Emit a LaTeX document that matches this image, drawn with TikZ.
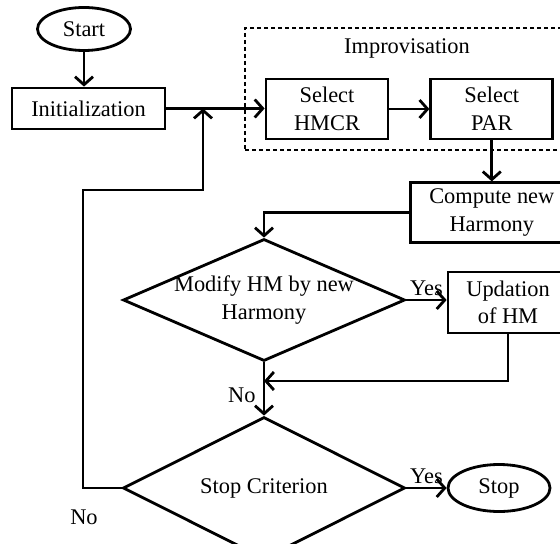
\documentclass[tikz,border=0pt]{standalone}
\usepackage{fontspec}
\setmainfont{Liberation Serif}
\usetikzlibrary{shapes.geometric, arrows.meta, positioning}

\begin{document}
\begin{tikzpicture}[
    x=0.5pt, y=-0.5pt,
    font=\fontsize{11.2}{13.8}\selectfont,
    stepbox/.style={draw, line width=1.4pt, minimum width=61pt, minimum height=30pt,
                    inner sep=2pt, align=center},
    decision/.style={diamond, draw, line width=1.4pt, inner xsep=-4pt, inner ysep=0pt,
                     align=center},
    terminal/.style={ellipse, draw, line width=1.4pt, inner sep=0pt},
    groupbox/.style={draw, line width=1.4pt, dash pattern=on 2pt off 1.5pt},
    arrow/.style={-{Straight Barb[length=4pt, width=9pt]}, line width=1.4pt},
    lbl/.style={inner sep=1.5pt},
]
    \useasboundingbox (0,0) rectangle (560,544);
    \clip (0,0) rectangle (560,544);

    % Start and initialization
    \node[terminal, minimum width=46.5pt, minimum height=21.5pt] (start) at (84,29) {Start};
    \node[stepbox, minimum width=76.5pt, minimum height=20.5pt] (init) at (88.5,108.5) {Initialization};

    % Improvisation group
    \node[groupbox, minimum width=162.5pt, minimum height=61pt] (improv) at (407.5,89) {};
    \node (improvtitle) at (407,48) {Improvisation};
    \node[stepbox] (hmcr) at (327,109) {Select\\HMCR};
    \node[stepbox, right=20pt of hmcr] (par) {Select\\PAR};
    \node[stepbox, minimum width=81pt, below=20.5pt of par] (compute) {Compute new\\Harmony};

    % Decisions
    \node[decision, aspect=2.31, minimum width=141pt, minimum height=61pt] (modify) at (264,300) {Modify HM by new\\Harmony};
    \node[stepbox, minimum width=60pt, minimum height=30.5pt] (update) at (508,302.5) {Updation\\of HM};
    \node[decision, aspect=1.99, minimum width=141pt, minimum height=71pt] (stopcrit) at (264,488) {Stop Criterion};
    \node[terminal, minimum width=51pt, minimum height=23.5pt] (stop) at (499,488) {Stop};

    % Helper points
    \coordinate (merge) at (264,381);
    \coordinate (join) at (203,108.5);
    \coordinate (loop) at (83,190);

    % Arrows
    \draw[arrow] (start.south) -- (start.south |- init.north);
    \draw[arrow] (init.east) -- (init.east -| hmcr.west);
    \draw[arrow] (hmcr) -- (par);
    \draw[arrow] (par.south) -- (par.south |- compute.north);
    \draw[arrow] (compute.west) -| (modify.north);
    \draw[arrow] (modify.east) -- (modify.east -| update.west) node[lbl, midway, above] (yes1) {Yes};
    \draw[arrow] (update.south) |- (merge);
    \draw[arrow] (modify.south) -- (stopcrit.north) node[lbl, pos=0.61, left=2pt] (no1) {No};
    \draw[arrow] (stopcrit.east) -- (stop.west) node[lbl, midway, above] (yes2) {Yes};
    \draw[arrow] (stopcrit.west) -| (loop) -| (join);
    \node (no2) at (84,517) {No};
\end{tikzpicture}
\end{document}
